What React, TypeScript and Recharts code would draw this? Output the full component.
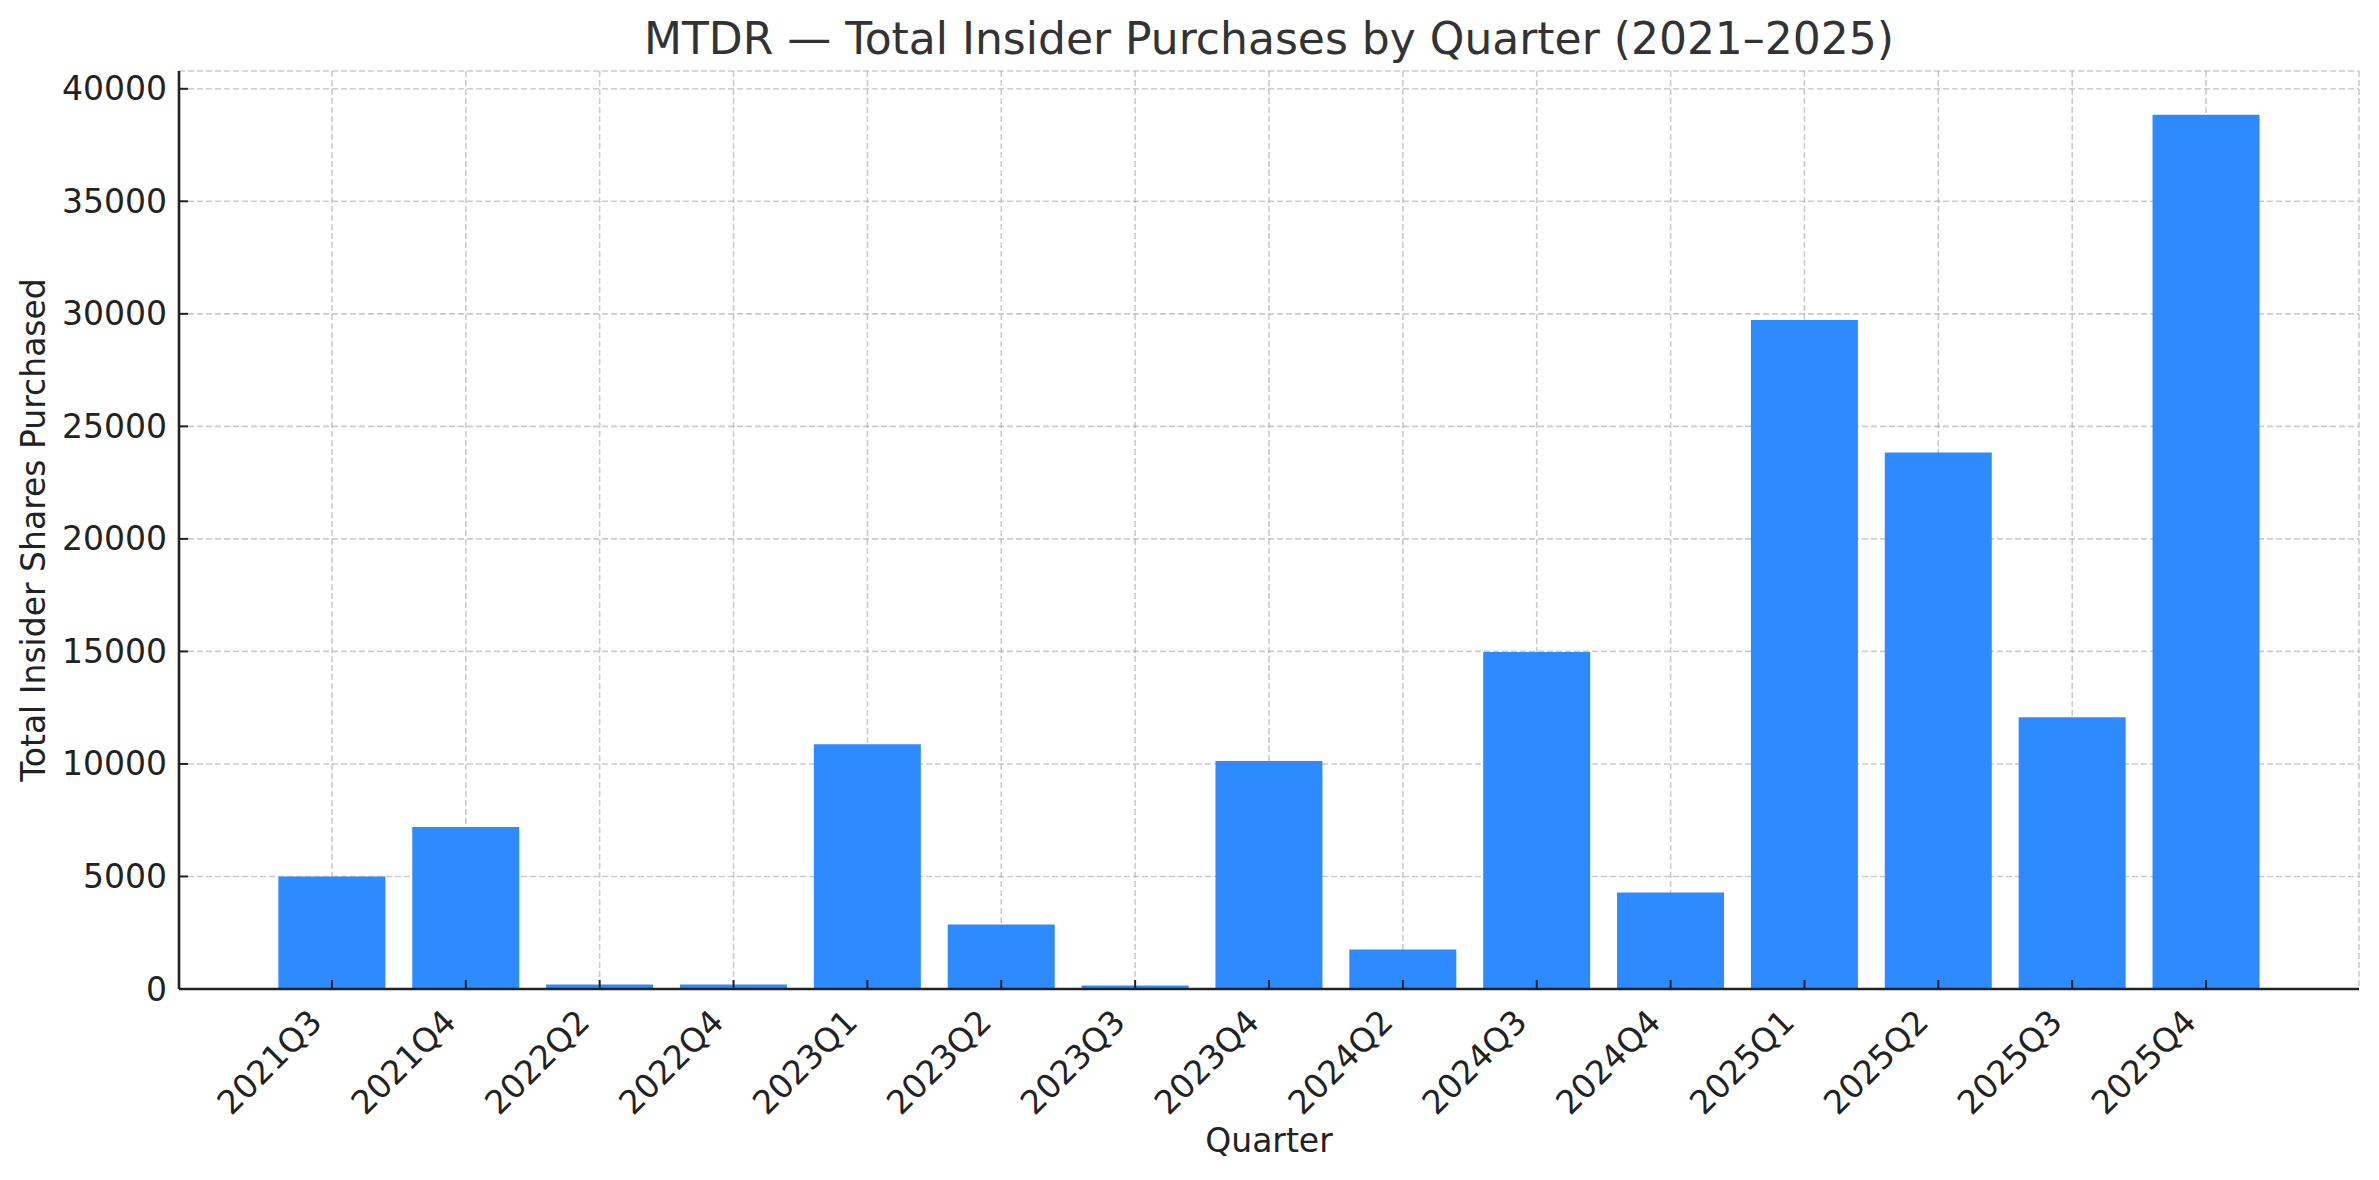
import { BarChart, Bar, XAxis, YAxis, CartesianGrid } from 'recharts';

const quarters = [
  '2021Q3', '2021Q4', '2022Q2', '2022Q4', '2023Q1', '2023Q2', '2023Q3', '2023Q4',
  '2024Q2', '2024Q3', '2024Q4', '2025Q1', '2025Q2', '2025Q3', '2025Q4',
];
const sharesPurchased = [
  5000, 7200, 200, 200, 10880, 2870, 160, 10130,
  1760, 14970, 4290, 29730, 23840, 12080, 38850,
];
const yTicks = [0, 5000, 10000, 15000, 20000, 25000, 30000, 35000, 40000];

const FONT = '"DejaVu Sans", sans-serif';
const W = 2379;
const H = 1180;
const LEFT = 179;
const TOP = 71;
const BOTTOM = 989;
const RIGHT = 2359;

const chartData = quarters.map((q, i) => ({ quarter: q, shares: sharesPurchased[i] }));

function YTick(props: any) {
  const { x, y, payload } = props;
  return (
    <g>
      <line x1={x} x2={x + 9} y1={y} y2={y} stroke="#222" strokeWidth={2} />
      <text x={x - 12} y={y} textAnchor="end" dominantBaseline="central"
        fontFamily={FONT} fontSize={33} fill="#222">
        {payload.value}
      </text>
    </g>
  );
}

function XTick(props: any) {
  const { x, y, payload } = props;
  return (
    <g>
      <line x1={x} x2={x} y1={y} y2={y - 9} stroke="#222" strokeWidth={2} />
      <text transform={`translate(${x - 8},${y + 35}) rotate(-45)`} textAnchor="end"
        fontFamily={FONT} fontSize={33} fill="#222">
        {payload.value}
      </text>
    </g>
  );
}

export default function App() {
  return (
    <div style={{ position: 'absolute', left: 0, top: 0, width: W, height: H, background: '#fff' }}>
      <BarChart
        width={W}
        height={H}
        data={chartData}
        margin={{ top: TOP, right: W - RIGHT, bottom: 91, left: LEFT - 100 }}
        barCategoryGap="10%"
      >
        <Bar dataKey="shares" fill="#2E8BFF" isAnimationActive={false} />
        <CartesianGrid stroke="#a0a0a0" strokeOpacity={0.55} strokeWidth={1.6} strokeDasharray="6 3" />
        <XAxis
          dataKey="quarter"
          type="category"
          height={100}
          padding={{ left: 86, right: 86 }}
          interval={0}
          tickSize={0}
          tickMargin={0}
          tickLine={false}
          axisLine={{ stroke: '#222', strokeWidth: 2.6 }}
          tick={<XTick />}
          label={{
            content: () => (
              <text x={(LEFT + RIGHT) / 2} y={1152} textAnchor="middle"
                fontFamily={FONT} fontSize={33} fill="#222">Quarter</text>
            ),
          }}
        />
        <YAxis
          width={100}
          domain={[0, 40790]}
          ticks={yTicks}
          allowDataOverflow
          interval={0}
          tickSize={0}
          tickMargin={0}
          tickLine={false}
          axisLine={{ stroke: '#222', strokeWidth: 2.6 }}
          tick={<YTick />}
          label={{
            content: () => (
              <text transform={`translate(45,${(TOP + BOTTOM) / 2}) rotate(-90)`} textAnchor="middle"
                fontFamily={FONT} fontSize={33} fill="#222">Total Insider Shares Purchased</text>
            ),
          }}
        />
      </BarChart>
      <svg width={W} height={70} style={{ position: 'absolute', left: 0, top: 0 }}>
        <text x={(LEFT + RIGHT) / 2} y={54} textAnchor="middle" fontFamily={FONT} fontSize={44} fill="#333">
          MTDR — Total Insider Purchases by Quarter (2021–2025)
        </text>
      </svg>
    </div>
  );
}
